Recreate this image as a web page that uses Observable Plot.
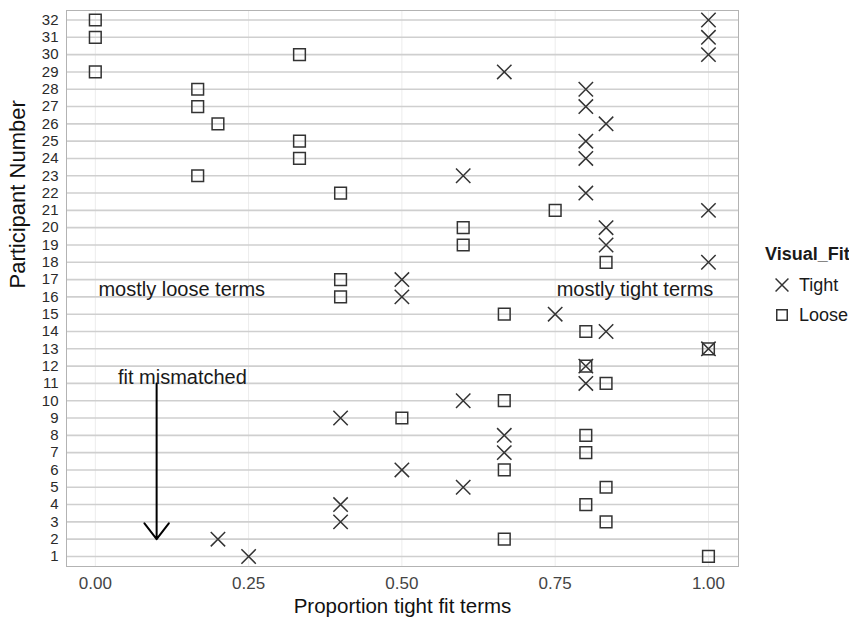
<!DOCTYPE html>
<html>
<head>
<meta charset="utf-8">
<script src="https://cdn.jsdelivr.net/npm/d3@7"></script>
<script src="https://cdn.jsdelivr.net/npm/@observablehq/plot@0.6"></script>
<style>
  body { margin: 0; background: #fff; font-family: "Liberation Sans", Arial, sans-serif; }
  #wrap { position: relative; width: 849px; height: 618px; }
  #legend { position: absolute; left: 765px; top: 242px; font-size: 18px; color: #1a1a1a; white-space: nowrap; }
  #legend .title { font-weight: bold; height: 24px; line-height: 24px; margin-bottom: 4px; }
  #legend .item { display: flex; align-items: center; height: 30px; }
  #legend svg { margin-left: 9px; margin-right: 9px; }
</style>
</head>
<body>
<div id="wrap"><div id="chart"></div><div id="legend"></div></div>
<script>
const participants = d3.range(1, 33);
// proportion of tight fit terms, by participant 1..32
const tightValues = [0.25, 0.2, 0.4, 0.4, 0.6, 0.5, 0.667, 0.667, 0.4, 0.6,
                     0.8, 0.8, 1.0, 0.833, 0.75, 0.5, 0.5, 1.0, 0.833, 0.833,
                     1.0, 0.8, 0.6, 0.8, 0.8, 0.833, 0.8, 0.8, 0.667, 1.0,
                     1.0, 1.0];
const looseValues = [1.0, 0.667, 0.833, 0.8, 0.833, 0.667, 0.8, 0.8, 0.5, 0.667,
                     0.833, 0.8, 1.0, 0.8, 0.667, 0.4, 0.4, 0.833, 0.6, 0.6,
                     0.75, 0.4, 0.167, 0.333, 0.333, 0.2, 0.167, 0.167, 0.0, 0.333,
                     0.0, 0.0];
const fitLevels = ["Tight", "Loose"];
const fitSymbols = ["times", "square"];
const xTicks = [0, 0.25, 0.5, 0.75, 1];
const xTickLabels = ["0.00", "0.25", "0.50", "0.75", "1.00"];
const noteLoose = [{label: "mostly loose terms", x: 0.005, y: 16.4}];
const noteTight = [{label: "mostly tight terms", x: 1.008, y: 16.4}];
const noteMismatch = [{label: "fit mismatched", x: 0.142, y: 11.35}];
const arrowData = [{x1: 0.1, y1: 11.0, x2: 0.1, y2: 2.0}];

const data = [];
participants.forEach((p, i) => {
  data.push({participant: p, prop: tightValues[i], fit: "Tight"});
  data.push({participant: p, prop: looseValues[i], fit: "Loose"});
});

const noteFont = {fontSize: 20, fill: "#1a1a1a"};
const chart = Plot.plot({
  width: 849,
  height: 618,
  marginLeft: 66,
  marginRight: 111,
  marginTop: 10,
  marginBottom: 52,
  style: {fontFamily: "Liberation Sans, Arial, sans-serif", background: "#fff"},
  x: {domain: [-0.047, 1.049]},
  y: {domain: [0.42, 32.55]},
  symbol: {domain: fitLevels, range: fitSymbols},
  marks: [
    Plot.gridX(xTicks, {stroke: "#ececec", strokeOpacity: 1, strokeWidth: 1}),
    Plot.gridY(participants, {stroke: "#cfcfcf", strokeOpacity: 1, strokeWidth: 1.6}),
    Plot.frame({stroke: "#b3b3b3", strokeWidth: 1}),
    Plot.axisX(xTicks, {tickSize: 0, tickPadding: 10, fontSize: 17, fill: "#444",
      tickFormat: (d, i) => xTickLabels[i], label: null}),
    Plot.axisY(participants, {tickSize: 0, tickPadding: 8, fontSize: 15, fill: "#2a2a2a",
      fontWeight: 500, label: null}),
    Plot.text(["Proportion tight fit terms"], {frameAnchor: "bottom", dy: 46, fontSize: 20.5, fill: "#111"}),
    Plot.text(["Participant Number"], {frameAnchor: "left", dx: -49, rotate: -90, fontSize: 22, fill: "#111"}),
    Plot.dot(data, {x: "prop", y: "participant", symbol: "fit", r: 6.6, stroke: "#333", strokeWidth: 1.5}),
    Plot.text(noteLoose, {x: "x", y: "y", text: "label", textAnchor: "start", ...noteFont}),
    Plot.text(noteTight, {x: "x", y: "y", text: "label", textAnchor: "end", ...noteFont}),
    Plot.text(noteMismatch, {x: "x", y: "y", text: "label", textAnchor: "middle", ...noteFont}),
    Plot.arrow(arrowData, {x1: "x1", y1: "y1", x2: "x2", y2: "y2", stroke: "#000", strokeWidth: 2, headLength: 15, headAngle: 75, bend: 0})
  ]
});
document.getElementById("chart").appendChild(chart);

// legend
const legend = document.getElementById("legend");
legend.innerHTML = `<div class="title">Visual_Fit</div>`;
fitLevels.forEach((lv, i) => {
  const item = document.createElement("div");
  item.className = "item";
  const s = d3.create("svg").attr("width", 16).attr("height", 16);
  s.append("path").attr("transform", "translate(8,8)")
    .attr("d", d3.symbol(fitSymbols[i] === "times" ? d3.symbolX : d3.symbolSquare, 110)())
    .attr("fill", "none").attr("stroke", "#333").attr("stroke-width", 1.5);
  item.appendChild(s.node());
  const t = document.createElement("span");
  t.textContent = lv;
  item.appendChild(t);
  legend.appendChild(item);
});
</script>
</body>
</html>
